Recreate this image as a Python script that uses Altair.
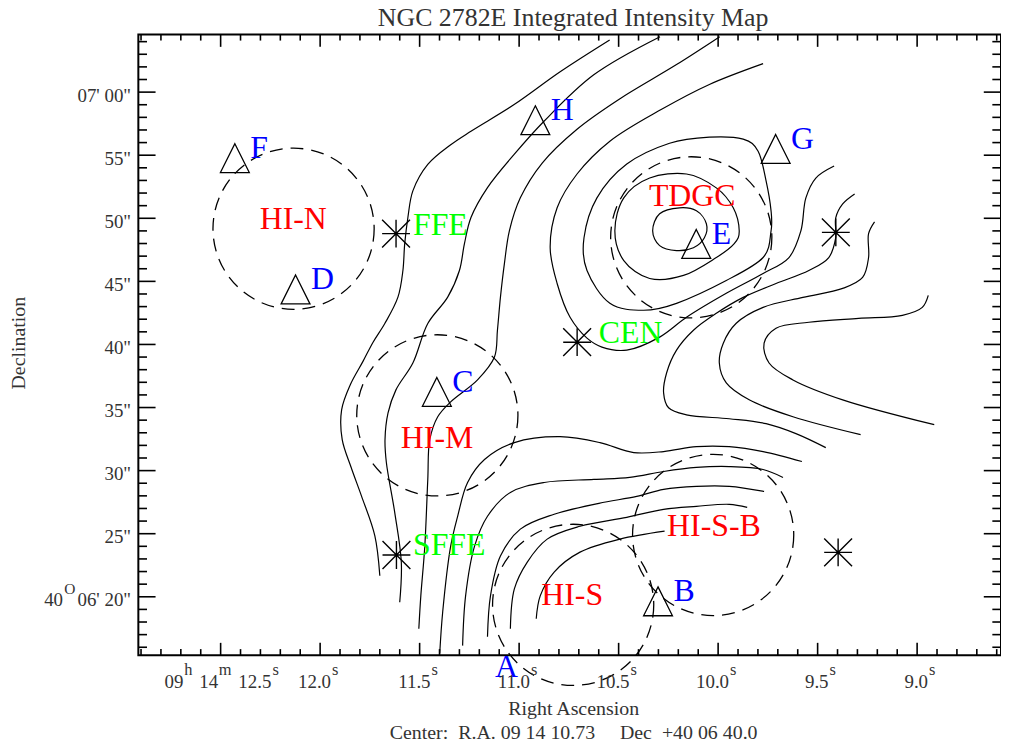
import altair as alt
import pandas as pd

FONT = "Liberation Serif"

# RA in seconds of time after 09h14m, Dec in arcsec after +40d06'00"
# ---- open contour lines ----
C1_RA = [10.545, 10.792, 11.025, 11.242, 11.342, 11.459, 11.534, 11.559, 11.575, 11.584, 11.609,
         11.675, 11.734, 11.784, 11.849, 11.892, 11.889, 11.844, 11.792, 11.725, 11.700]
C1_DEC = [64.13, 61.63, 59.01, 56.90, 55.85, 54.27, 52.17, 50.06, 47.97, 45.86, 43.75,
          41.66, 40.18, 38.68, 36.79, 34.82, 32.45, 30.25, 27.98, 24.83, 21.67]

C2_RA = [10.292, 10.625, 10.875, 11.025, 11.159, 11.242, 11.275, 11.300, 11.359, 11.459, 11.534,
         11.619, 11.659, 11.674, 11.667, 11.625, 11.592, 11.600]
C2_DEC = [64.39, 61.37, 57.69, 55.06, 52.43, 50.06, 47.97, 45.86, 43.75, 41.66, 38.53,
          36.40, 34.56, 32.45, 30.62, 26.67, 22.73, 19.57]

C3_RA = [9.992, 10.209, 10.499, 10.709, 10.884, 10.994, 11.049, 11.074, 11.094, 11.109, 11.124,
         11.209, 11.344, 11.409, 11.449, 11.459, 11.474, 11.494, 11.504]
C3_DEC = [64.39, 62.18, 59.42, 57.06, 54.38, 51.62, 49.01, 46.41, 43.73, 41.13, 39.00,
          37.19, 35.45, 34.27, 32.45, 29.30, 24.01, 20.07, 17.47]

C4_RA = [9.417, 9.509, 9.559, 9.584, 9.644, 9.774, 9.959, 10.159, 10.294, 10.459, 10.584,
         10.659, 10.744, 10.809, 10.844, 10.809, 10.709, 10.544, 10.284, 10.044, 9.774]
C4_DEC = [54.14, 53.19, 51.62, 49.01, 46.89, 45.62, 44.05, 42.15, 40.58, 39.55, 39.79,
          40.50, 42.15, 44.83, 47.67, 50.83, 53.51, 56.11, 58.64, 60.61, 62.26]

C5_RA = [9.314, 9.374, 9.409, 9.409, 9.444, 9.544, 9.709, 9.874, 10.009, 10.124, 10.209,
         10.259, 10.274, 10.249, 10.159, 9.944, 9.759, 9.609, 9.459]
C5_DEC = [51.93, 51.14, 50.04, 48.46, 46.89, 45.86, 44.83, 43.73, 42.47, 41.13, 39.55,
          37.74, 36.16, 34.98, 34.42, 34.11, 33.72, 32.93, 31.82]

C6_RA = [9.214, 9.244, 9.244, 9.274, 9.374, 9.574, 9.774, 9.909, 9.974, 9.994, 9.959,
         9.844, 9.624, 9.284]
C6_DEC = [49.72, 48.78, 46.89, 45.31, 44.44, 43.73, 42.94, 41.68, 40.10, 38.53, 36.95,
          35.61, 34.27, 32.85]

C7_RA = [8.944, 8.974, 9.074, 9.294, 9.544, 9.709, 9.769, 9.744, 9.624, 9.374, 8.914]
C7_DEC = [43.89, 42.94, 42.31, 42.07, 41.76, 41.29, 40.10, 38.53, 37.19, 35.61, 33.64]

C8_RA = [11.399, 11.384, 11.344, 11.309, 11.259, 11.174, 11.024, 10.794, 10.594, 10.424,
         10.274, 10.109, 9.944, 9.774, 9.579]
C8_DEC = [15.50, 18.81, 24.01, 26.38, 29.06, 30.88, 32.22, 32.69, 32.22, 31.43,
          31.51, 31.90, 31.90, 31.51, 30.72]

C9_RA = [11.284, 11.269, 11.224, 11.159, 11.044, 10.874, 10.624, 10.444, 10.274, 10.109,
         9.944, 9.774, 9.674]
C9_DEC = [16.13, 20.07, 24.01, 26.38, 28.27, 29.06, 29.30, 29.46, 29.93, 30.25,
          30.32, 30.09, 29.46]

C10_RA = [11.159, 11.144, 11.094, 10.994, 10.824, 10.599, 10.409, 10.274, 10.109, 9.944, 9.769]
C10_DEC = [16.84, 20.07, 23.23, 25.36, 26.54, 27.41, 27.96, 28.51, 28.75, 28.75, 28.35]

C11_RA = [11.044, 11.024, 10.959, 10.859, 10.694, 10.459, 10.274, 10.109, 9.944, 9.854]
C11_DEC = [17.47, 20.62, 22.75, 24.57, 25.59, 26.30, 26.93, 27.17, 27.33, 27.09]

C12_RA = [10.914, 10.894, 10.824, 10.694, 10.494, 10.269]
C12_DEC = [18.26, 20.07, 21.96, 23.54, 24.57, 25.20]

# ---- closed contours around TDGC ----
T1_RA = [9.734, 9.774, 9.959, 10.209, 10.374, 10.544, 10.659, 10.674, 10.609, 10.459,
         10.244, 10.044, 9.874, 9.799, 9.759, 9.734]
T1_DEC = [49.01, 46.89, 45.07, 43.26, 42.71, 43.26, 45.86, 48.46, 51.62, 54.30,
          55.95, 56.43, 56.27, 55.32, 52.96, 50.59]
T2_RA = [9.894, 9.924, 10.009, 10.159, 10.344, 10.474, 10.519, 10.474, 10.344, 10.174, 10.009, 9.919]
T2_DEC = [49.01, 50.83, 52.41, 53.51, 53.19, 51.62, 49.01, 46.65, 45.23, 45.47, 46.89, 47.99]
T3_RA = [10.059, 10.109, 10.194, 10.294, 10.329, 10.294, 10.209, 10.124, 10.069]
T3_DEC = [49.57, 50.59, 50.83, 50.36, 49.01, 47.83, 47.44, 47.67, 48.46]

# ---- apertures (dashed circles) ----
CIRC_RA = [12.1335, 11.411, 10.135, 10.025, 10.7285]
CIRC_DEC = [49.17, 34.38, 48.49, 24.90, 19.36]

# ---- region names ----
REG_NAME = ["HI-N", "HI-M", "TDGC", "HI-S-B", "HI-S"]
REG_RA = [12.135, 11.4125, 10.13, 10.021, 10.7335]
REG_DEC = [49.15, 31.80, 50.99, 24.83, 19.31]

# ---- triangles ----
TRI_NAME = ["A", "B", "C", "D", "E", "F", "G", "H"]
TRI_RA = [11.1985, 10.302, 11.4135, 12.1235, 10.110, 12.4285, 9.711, 10.9185]
TRI_DEC = [13.68, 19.64, 36.24, 44.36, 47.97, 54.77, 55.50, 57.77]

# ---- asterisks ----
STAR_RA = [11.6185, 10.7085, 11.6165, 9.4085, 9.397]
STAR_DEC = [48.78, 40.18, 23.31, 48.88, 23.52]
STAR_NAME = ["FFE", "CEN", "SFFE"]
STAR_LAB_RA = [11.5335, 10.600, 11.5335]
STAR_LAB_DEC = [48.70, 40.08, 23.31]

# ---- axis ticks / labels ----
X_MAJOR = [9.0, 9.5, 10.0, 10.5, 11.0, 11.5, 12.0, 12.5]
X_MINOR = [round(v / 10, 1) for v in range(86, 130) if v % 5 != 0]
Y_MAJOR = [20, 25, 30, 35, 40, 45, 50, 55, 60]
Y_MINOR = [v for v in range(16, 65) if v % 5 != 0]
XLAB_VAL = [12.0, 11.5, 11.0, 10.5, 10.0, 9.5, 9.0]
XLAB_TXT = ["12.0", "11.5", "11.0", "10.5", "10.0", "9.5", "9.0"]
YLAB_VAL = [25, 30, 35, 40, 45, 50, 55, 60]
YLAB_TXT = ['25"', '30"', '35"', '40"', '45"', '50"', '55"', "07' 00\""]

TITLE = "NGC 2782E Integrated Intensity Map"
XTITLE = "Right Ascension"
YTITLE = "Declination"
CENTER = "Center:\u00a0\u00a0R.A. 09 14 10.73\u00a0\u00a0\u00a0\u00a0\u00a0Dec\u00a0\u00a0+40 06 40.0"

W, H = 867, 624
XS = alt.Scale(domain=[8.5785, 12.9135], reverse=True, nice=False, zero=False)
YS = alt.Scale(domain=[15.363, 64.574], nice=False, zero=False)


def X(f):
    return alt.X(f"{f}:Q", scale=XS, axis=None)


def Y(f):
    return alt.Y(f"{f}:Q", scale=YS, axis=None)


def lines_df(ras, decs):
    rows = []
    for cid, (rr, dd) in enumerate(zip(ras, decs)):
        for i, (r, d) in enumerate(zip(rr, dd)):
            rows.append({"cid": cid, "i": i, "ra": r, "dec": d})
    return pd.DataFrame(rows)


OPEN_RA = [C1_RA, C2_RA, C3_RA, C4_RA, C5_RA, C6_RA, C7_RA, C8_RA, C9_RA, C10_RA, C11_RA, C12_RA]
OPEN_DEC = [C1_DEC, C2_DEC, C3_DEC, C4_DEC, C5_DEC, C6_DEC, C7_DEC, C8_DEC, C9_DEC, C10_DEC, C11_DEC, C12_DEC]

layers = []
layers.append(
    alt.Chart(lines_df(OPEN_RA, OPEN_DEC)).mark_line(
        color="black", strokeWidth=1.2, interpolate="catmull-rom"
    ).encode(x=X("ra"), y=Y("dec"), detail="cid:N", order="i:Q")
)
layers.append(
    alt.Chart(lines_df([T1_RA, T2_RA, T3_RA], [T1_DEC, T2_DEC, T3_DEC])).mark_line(
        color="black", strokeWidth=1.2, interpolate="cardinal-closed"
    ).encode(x=X("ra"), y=Y("dec"), detail="cid:N", order="i:Q")
)
layers.append(
    alt.Chart(pd.DataFrame({"ra": CIRC_RA, "dec": CIRC_DEC})).mark_point(
        shape="circle", size=26244, filled=False, color="black", strokeWidth=1.3,
        strokeDash=[13, 8], opacity=1
    ).encode(x=X("ra"), y=Y("dec"))
)
layers.append(
    alt.Chart(pd.DataFrame({"ra": TRI_RA, "dec": TRI_DEC})).mark_point(
        shape="M0,-1L1,1L-1,1Z", size=841, filled=False, color="black", strokeWidth=1.3,
        opacity=1, clip=True
    ).encode(x=X("ra"), y=Y("dec"))
)
layers.append(
    alt.Chart(pd.DataFrame({"ra": STAR_RA, "dec": STAR_DEC})).mark_point(
        shape="M-1,0L1,0M0,-1L0,1M-1,-1L1,1M-1,1L1,-1", size=784, filled=False,
        color="black", strokeWidth=1.4, opacity=1
    ).encode(x=X("ra"), y=Y("dec"))
)
# labels
layers.append(
    alt.Chart(pd.DataFrame({"ra": REG_RA, "dec": REG_DEC, "t": REG_NAME})).mark_text(
        font=FONT, fontSize=32, color="#ff0000", align="center", baseline="alphabetic"
    ).encode(x=X("ra"), y=Y("dec"), text="t:N")
)
layers.append(
    alt.Chart(pd.DataFrame({"ra": TRI_RA, "dec": TRI_DEC, "t": TRI_NAME})).mark_text(
        font=FONT, fontSize=32, color="#0000ff", align="left", baseline="alphabetic", dx=15.5
    ).encode(x=X("ra"), y=Y("dec"), text="t:N")
)
layers.append(
    alt.Chart(pd.DataFrame({"ra": STAR_LAB_RA, "dec": STAR_LAB_DEC, "t": STAR_NAME})).mark_text(
        font=FONT, fontSize=32, color="#00ff00", align="left", baseline="alphabetic"
    ).encode(x=X("ra"), y=Y("dec"), text="t:N")
)

# ticks
TW = 1.6
for vals, ln in [(X_MAJOR, 12.5), (X_MINOR, 6.2)]:
    df = pd.DataFrame({"t": vals})
    layers.append(alt.Chart(df).mark_rule(color="black", strokeWidth=TW).encode(
        x=X("t"), y=alt.value(H), y2=alt.value(H - ln)))
    layers.append(alt.Chart(df).mark_rule(color="black", strokeWidth=TW).encode(
        x=X("t"), y=alt.value(0), y2=alt.value(ln)))
for vals, ln in [(Y_MAJOR, 17.3), (Y_MINOR, 8.7)]:
    df = pd.DataFrame({"t": vals})
    layers.append(alt.Chart(df).mark_rule(color="black", strokeWidth=TW).encode(
        y=Y("t"), x=alt.value(0), x2=alt.value(ln)))
    layers.append(alt.Chart(df).mark_rule(color="black", strokeWidth=TW).encode(
        y=Y("t"), x=alt.value(W), x2=alt.value(W - ln)))

TC = "#333333"
XBASE = 656.6
XSUP = 643.5
SUPFS = 16.5
# x tick labels
layers.append(
    alt.Chart(pd.DataFrame({"v": XLAB_VAL, "t": XLAB_TXT})).mark_text(
        font=FONT, fontSize=19, color=TC, align="right", baseline="alphabetic", dx=11.0
    ).encode(x=X("v"), y=alt.value(XBASE), text="t:N")
)
layers.append(
    alt.Chart(pd.DataFrame({"v": XLAB_VAL, "t": ["s"] * len(XLAB_VAL)})).mark_text(
        font=FONT, fontSize=SUPFS, color=TC, align="left", baseline="alphabetic", dx=12.0
    ).encode(x=X("v"), y=alt.value(XSUP), text="t:N")
)
FIRST = [("09", "right", -37.4, 19, XBASE), ("h", "left", -36.6, SUPFS, XSUP),
         ("14", "right", -2.4, 19, XBASE), ("m", "left", -1.8, SUPFS, XSUP),
         ("12.5", "right", 51.0, 19, XBASE), ("s", "left", 52.2, SUPFS, XSUP)]
for txt, al, dx, fs, yy in FIRST:
    layers.append(
        alt.Chart(pd.DataFrame({"v": [12.5], "t": [txt]})).mark_text(
            font=FONT, fontSize=fs, color=TC, align=al, baseline="alphabetic", dx=dx
        ).encode(x=X("v"), y=alt.value(yy), text="t:N")
    )
# y tick labels
layers.append(
    alt.Chart(pd.DataFrame({"v": YLAB_VAL, "t": YLAB_TXT})).mark_text(
        font=FONT, fontSize=19, color=TC, align="right", baseline="alphabetic", dy=9.5
    ).encode(y=Y("v"), x=alt.value(-7.3), text="t:N")
)
for txt, al, xx, fs, dy in [("06' 20\"", "right", -7.3, 19, 9.5), ("40", "right", -75.7, 19, 9.5),
                            ("O", "left", -74.5, 15.5, -3.0)]:
    layers.append(
        alt.Chart(pd.DataFrame({"v": [20], "t": [txt]})).mark_text(
            font=FONT, fontSize=fs, color=TC, align=al, baseline="alphabetic", dy=dy
        ).encode(y=Y("v"), x=alt.value(xx), text="t:N")
    )

# titles
for txt, xx, yy, fs in [(TITLE, 437, -8.0, 26), (XTITLE, 437.5, 684.3, 20),
                        (CENTER, 437.5, 708.3, 20)]:
    layers.append(
        alt.Chart(pd.DataFrame({"t": [txt]})).mark_text(
            font=FONT, fontSize=fs, color=TC, align="center", baseline="alphabetic"
        ).encode(x=alt.value(xx), y=alt.value(yy), text="t:N")
    )
layers.append(
    alt.Chart(pd.DataFrame({"t": [YTITLE]})).mark_text(
        font=FONT, fontSize=20, color=TC, align="center", baseline="middle", angle=270
    ).encode(x=alt.value(-119.5), y=alt.value(310.3), text="t:N")
)

chart = alt.layer(*layers).properties(
    width=W, height=H,
    padding={"left": 131, "top": 24.7, "right": 0, "bottom": 86},
    autosize=alt.AutoSizeParams(type="none"),
).configure_view(stroke="black", strokeWidth=2)

chart.save("out.html", embed_options={"renderer": "svg", "actions": False})
